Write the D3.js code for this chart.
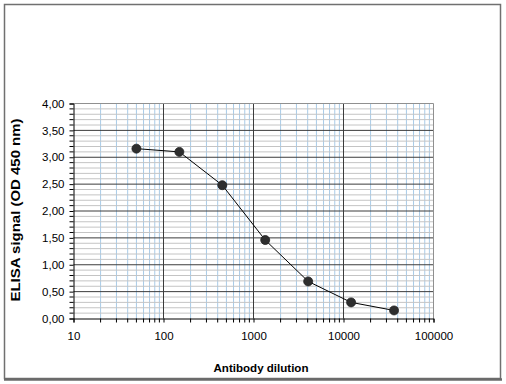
<!DOCTYPE html>
<html><head><meta charset="utf-8">
<script src="https://cdn.jsdelivr.net/npm/d3@7"></script>
<style>body{margin:0;background:#fff}svg{display:block}</style>
</head><body>
<script>
const dilutions = [50, 150, 450, 1350, 4050, 12150, 36450];
const signal = [3.16, 3.10, 2.48, 1.46, 0.69, 0.30, 0.15];
const xTickValues = [10, 100, 1000, 10000, 100000];
const yTickValues = [0, 0.5, 1, 1.5, 2, 2.5, 3, 3.5, 4];
const xTitle = "Antibody dilution";
const yTitle = "ELISA signal (OD 450 nm)";

(function () {
const W = 506, H = 384;
const svg = d3.select("body").append("svg").attr("width", W).attr("height", H);
svg.append("rect").attr("width", W).attr("height", H).attr("fill", "#fff");

// outer frame
svg.append("rect").attr("x", 4.5).attr("y", 4.5).attr("width", 496).attr("height", 374)
  .attr("fill", "none").attr("stroke", "#707070").attr("stroke-width", 1.5);
svg.append("line").attr("x1", 4).attr("x2", 502).attr("y1", 379.5).attr("y2", 379.5)
  .attr("stroke", "#6a6a6a").attr("stroke-width", 2.5);

const pLeft = 73.5, pRight = 433.5, pTop = 103.5, pBottom = 318.5;
const x = d3.scaleLog().domain([10, 100000]).range([pLeft, pRight]);
const y = d3.scaleLinear().domain([0, 4]).range([pBottom, pTop]);

// minor vertical lines
const minorX = [];
for (let d = 10; d < 100000; d *= 10) for (let k = 2; k <= 9; k++) minorX.push(d * k);
svg.append("g").selectAll("line").data(minorX).join("line")
  .attr("x1", d => x(d)).attr("x2", d => x(d)).attr("y1", pTop).attr("y2", pBottom)
  .attr("stroke", "#a8cbe8").attr("stroke-width", 1);
// minor horizontal lines
const minorY = d3.range(1, 40).map(i => i / 10).filter(v => Math.abs(v * 2 - Math.round(v * 2)) > 1e-6);
svg.append("g").selectAll("line").data(minorY).join("line")
  .attr("x1", pLeft).attr("x2", pRight).attr("y1", d => y(d)).attr("y2", d => y(d))
  .attr("stroke", "#c4c4c4").attr("stroke-width", 1);
// major horizontal
svg.append("g").selectAll("line").data(yTickValues.filter(v => v > 0 && v < 4)).join("line")
  .attr("x1", pLeft).attr("x2", pRight).attr("y1", d => y(d)).attr("y2", d => y(d))
  .attr("stroke", "#3c3c3c").attr("stroke-width", 1);
// major vertical
svg.append("g").selectAll("line").data(xTickValues.filter(v => v > 10 && v < 100000)).join("line")
  .attr("x1", d => x(d)).attr("x2", d => x(d)).attr("y1", pTop).attr("y2", pBottom)
  .attr("stroke", "#3c3c3c").attr("stroke-width", 1);
// plot border (top/right)
svg.append("path").attr("d", `M${pLeft},${pTop}H${pRight}V${pBottom}`)
  .attr("fill", "none").attr("stroke", "#909090").attr("stroke-width", 1);

// axes
const font = "'Liberation Sans', Arial, sans-serif";
const xAxis = d3.axisBottom(x).tickValues(xTickValues).tickFormat(d3.format("d")).tickSize(4).tickPadding(9);
const gx = svg.append("g").attr("transform", `translate(0,${pBottom})`).call(xAxis);
gx.append("g").selectAll("line").data(minorX).join("line")
  .attr("x1", d => x(d)).attr("x2", d => x(d)).attr("y1", 0).attr("y2", 4).attr("stroke", "#000");
const yAxis = d3.axisLeft(y).tickValues(yTickValues).tickFormat(d => d3.format(".2f")(d).replace(".", ",")).tickSize(4).tickPadding(5);
const gy = svg.append("g").attr("transform", `translate(${pLeft},0)`).call(yAxis);
gy.append("g").selectAll("line").data(minorY).join("line")
  .attr("x1", -4).attr("x2", 0).attr("y1", d => y(d)).attr("y2", d => y(d)).attr("stroke", "#000");
[gx, gy].forEach(g => {
  g.select(".domain").attr("stroke", "#000");
  g.selectAll(".tick line").attr("stroke", "#000");
  g.selectAll("text").attr("font-family", font).attr("font-size", 11.5).attr("fill", "#000");
});

// line + points
const line = d3.line().x((d, i) => x(dilutions[i])).y(d => y(d)).curve(d3.curveLinear);
svg.append("path").datum(signal).attr("d", line).attr("fill", "none").attr("stroke", "#000").attr("stroke-width", 1);
svg.append("g").selectAll("circle").data(signal).join("circle")
  .attr("cx", (d, i) => x(dilutions[i])).attr("cy", d => y(d)).attr("r", 4.5)
  .attr("fill", "#2e2e2e").attr("stroke", "#222").attr("stroke-width", 0.8);

// titles
svg.append("text").attr("x", 261).attr("y", 372).attr("text-anchor", "middle")
  .attr("font-family", font).attr("font-size", 11.5).attr("font-weight", "bold")
  .attr("textLength", 95).attr("lengthAdjust", "spacingAndGlyphs").text(xTitle);
svg.append("text").attr("transform", "translate(20,210) rotate(-90)").attr("text-anchor", "middle")
  .attr("font-family", font).attr("font-size", 12).attr("font-weight", "bold")
  .attr("textLength", 183).attr("lengthAdjust", "spacingAndGlyphs").text(yTitle);
})();
</script>
</body></html>
